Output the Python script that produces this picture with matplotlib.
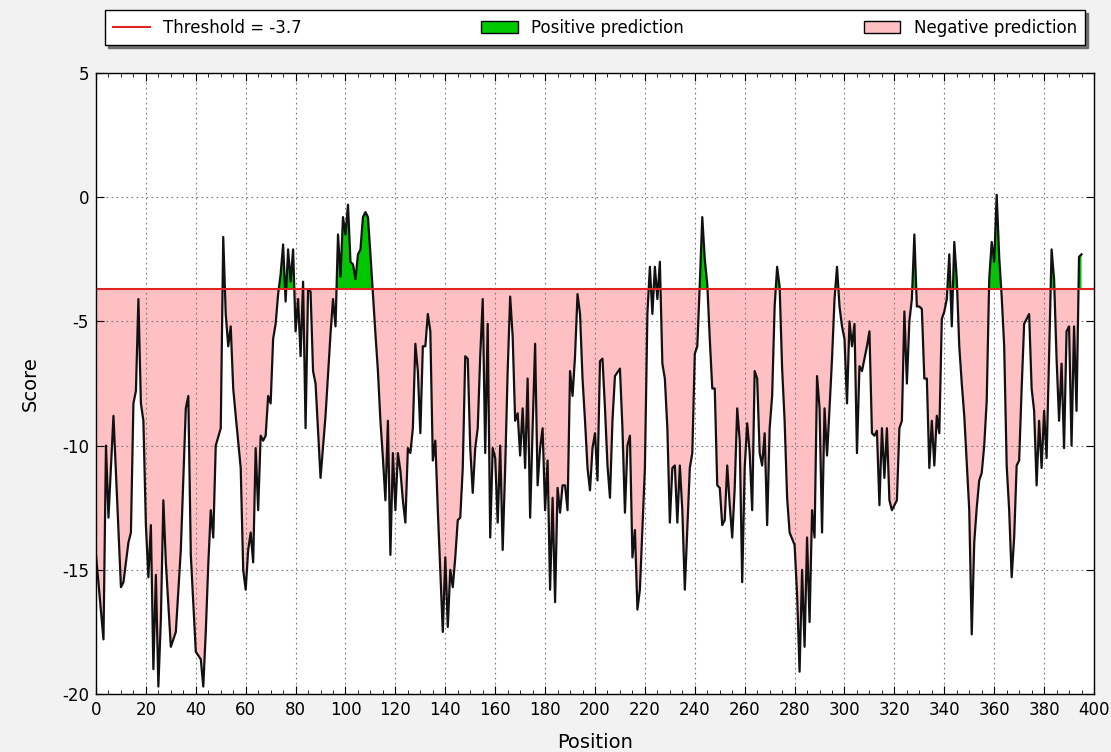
import matplotlib
matplotlib.use('Agg')
import matplotlib.pyplot as plt
from matplotlib.patches import Patch
from matplotlib.lines import Line2D
from matplotlib.ticker import MultipleLocator
import numpy as np

threshold = -3.7

positions = [
    0, 3, 4, 5, 7, 10, 11, 13, 14, 15, 16, 17, 18, 19, 20, 21, 22, 23, 24, 25, 26, 27, 28, 30, 32, 34, 36, 37, 38,
    40, 42, 43, 44, 45, 46, 47, 48, 50, 51, 52, 53, 54, 55, 56, 58, 59, 60, 61, 62, 63, 64, 65, 66, 67, 68, 69,
    70, 71, 72, 73, 74, 75, 76, 77, 78, 79,
    80, 81, 82, 83, 84, 85, 86, 87, 88, 90, 92, 94, 95, 96, 97, 98, 99, 100, 101, 102, 103, 104, 105, 106, 107,
    108, 109, 110, 111, 112, 113, 114, 115, 116, 117, 118, 119,
    120, 121, 122, 123, 124, 125, 126, 127, 128, 129, 130, 131, 132, 133, 134, 135, 136, 137, 138, 139, 140, 141,
    142, 143, 144, 145, 146, 147, 148, 149, 150, 151, 152, 153, 154, 155, 156, 157, 158, 159,
    160, 161, 162, 163, 164, 165, 166, 167, 168, 169, 170, 171, 172, 173, 174, 175, 176, 177, 178, 179, 180, 181,
    182, 183, 184, 185, 186, 187, 188, 189, 190, 191, 192, 193, 194, 195, 196, 197, 198, 199,
    200, 201, 202, 203, 204, 205, 206, 207, 208, 210, 211, 212, 213, 214, 215, 216, 217, 218, 220, 221, 222, 223,
    224, 225, 226, 227, 228, 229, 230, 231, 232, 233, 234, 235, 236, 238, 239,
    240, 241, 242, 243, 244, 245, 246, 247, 248, 249, 250, 251, 252, 253, 254, 255, 256, 257, 258, 259, 260, 261,
    262, 263, 264, 265, 266, 267, 268, 269, 270, 271, 272, 273, 274, 275, 276, 277, 278,
    280, 281, 282, 283, 284, 285, 286, 287, 288, 289, 290, 291, 292, 293, 294, 295, 296, 297, 298, 299, 300, 301,
    302, 303, 304, 305, 306, 307, 308, 309, 310, 311, 312, 313, 314, 315, 316, 317, 318, 319,
    320, 321, 322, 323, 324, 325, 326, 327, 328, 329, 330, 331, 332, 333, 334, 335, 336, 337, 338, 339, 340, 341,
    342, 343, 344, 345, 346, 347, 348, 350, 351, 352, 353, 354, 355, 356, 357, 358, 359,
    360, 361, 362, 363, 364, 365, 366, 367, 368, 369, 370, 371, 372, 373, 374, 375, 376, 377, 378, 379, 380, 381,
    382, 383, 384, 385, 386, 387, 388, 389, 390, 391, 392, 393, 394, 395,
]

scores = [
    -14.4, -17.8, -10.0, -12.9, -8.8, -15.7, -15.5, -13.9, -13.5, -8.3, -7.8, -4.1, -8.3, -9.0, -13.2, -15.3,
    -13.2, -19.0, -15.2, -19.7, -17.0, -12.2, -14.7, -18.1, -17.5, -14.2, -8.5, -8.0, -14.4,
    -18.3, -18.6, -19.7, -17.5, -14.8, -12.6, -13.7, -10.0, -9.3, -1.6, -4.7, -6.0, -5.2, -7.7, -8.8, -10.9,
    -15.0, -15.8, -14.2, -13.5, -14.7, -10.1, -12.6, -9.6, -9.8, -9.6, -8.0,
    -8.3, -5.7, -5.1, -3.9, -3.1, -1.9, -4.2, -2.1, -3.4, -2.1,
    -5.4, -4.1, -6.4, -3.4, -9.3, -3.7, -3.8, -7.0, -7.5, -11.3, -8.8, -5.5, -4.1, -5.2, -1.5, -3.2, -0.8, -1.5,
    -0.3, -2.6, -2.7, -3.3, -2.3, -2.1, -0.8,
    -0.6, -0.8, -2.3, -3.9, -5.5, -7.0, -9.0, -10.5, -12.2, -9.0, -14.4, -10.3,
    -12.6, -10.3, -11.0, -12.2, -13.1, -10.1, -10.3, -9.3, -5.9, -7.0, -9.5, -6.0, -6.0, -4.7, -5.4, -10.6, -9.8,
    -12.6, -15.0, -17.5, -14.5, -17.3,
    -15.0, -15.7, -14.5, -13.0, -12.9, -10.9, -6.4, -6.5, -10.1, -11.9, -10.1, -9.3, -6.4, -4.1, -10.3, -5.1,
    -13.7, -10.1,
    -10.5, -13.1, -10.0, -14.2, -10.9, -7.0, -4.0, -5.6, -9.0, -8.7, -10.4, -8.5, -10.9, -7.3, -12.9, -9.3, -5.9,
    -11.6, -10.1, -9.3, -12.6, -10.6,
    -15.8, -12.1, -16.3, -11.7, -12.7, -11.6, -11.6, -12.6, -7.0, -8.0, -6.4, -3.9, -4.7, -7.3, -9.0, -10.9,
    -11.8, -10.1,
    -9.5, -11.4, -6.6, -6.5, -8.5, -10.8, -12.1, -9.0, -7.2, -6.9, -9.3, -12.7, -10.0, -9.6, -14.5, -13.4, -16.6,
    -15.8, -10.9, -4.7, -2.8, -4.7,
    -2.8, -4.1, -2.6, -6.7, -7.3, -9.3, -13.1, -10.9, -10.8, -13.1, -10.8, -12.6, -15.8, -10.9, -10.3,
    -6.3, -6.0, -3.5, -0.8, -2.5, -3.5, -5.7, -7.7, -7.7, -11.6, -11.7, -13.2, -13.0, -10.8, -12.4, -13.7, -11.7,
    -8.5, -9.8, -15.5, -10.9, -9.1,
    -10.3, -12.6, -7.0, -7.3, -10.3, -10.8, -9.5, -13.2, -9.3, -8.0, -4.4, -2.8, -3.6, -6.9, -9.0, -12.1, -13.5,
    -14.0, -16.0, -19.1, -15.0, -18.1, -13.7, -17.1, -12.6, -13.7, -7.2, -8.5, -13.5, -8.5, -10.4, -8.5, -6.5,
    -4.1, -2.8, -4.4, -5.2, -5.7, -8.3,
    -5.0, -6.0, -5.1, -10.3, -6.8, -7.0, -6.5, -6.0, -5.4, -9.5, -9.6, -9.4, -12.4, -9.3, -11.3, -9.3, -12.2,
    -12.6,
    -12.4, -12.2, -9.3, -9.0, -4.6, -7.5, -5.0, -4.1, -1.5, -4.4, -4.4, -4.5, -7.3, -7.3, -10.9, -9.0, -10.8,
    -8.8, -9.5, -4.9, -4.6, -4.1,
    -2.3, -5.2, -1.8, -3.3, -6.0, -7.5, -8.8, -12.6, -17.6, -13.9, -12.5, -11.4, -11.1, -10.0, -8.2, -3.3, -1.8,
    -2.6, 0.1, -2.4, -4.0, -6.0, -10.8, -12.6, -15.3, -13.7, -10.8, -10.6, -7.7, -5.1, -4.9, -4.7, -7.7, -8.6,
    -11.6, -9.0, -10.9, -8.6, -10.5,
    -6.4, -2.1, -3.3, -6.5, -9.0, -6.7, -10.1, -5.4, -5.2, -10.0, -5.2, -8.6, -2.4, -2.3,
]

x_ticks = list(range(0, 401, 20))
y_ticks = [-20, -15, -10, -5, 0, 5]
legend_labels = ['Threshold = -3.7', 'Positive prediction', 'Negative prediction']

pos_arr = np.array(positions, dtype=float)
sc_arr = np.array(scores, dtype=float)

plt.rcParams['font.family'] = ['DejaVu Sans']
plt.rcParams['axes.unicode_minus'] = False

fig = plt.figure(figsize=(11.11, 7.52), dpi=100, facecolor='#f2f2f2')
ax = fig.add_axes([0.0864, 0.0771, 0.8983, 0.8258])
ax.set_facecolor('white')

ax.fill_between(pos_arr, sc_arr, threshold, where=sc_arr < threshold, interpolate=True,
                color='#ffc0c4', lw=0)
ax.fill_between(pos_arr, sc_arr, threshold, where=sc_arr >= threshold, interpolate=True,
                color='#00c800', lw=0)
ax.plot(pos_arr, sc_arr, color='#111111', lw=1.6)
ax.axhline(threshold, color='#e02424', lw=1.5)

ax.set_xlim(0, 400)
ax.set_ylim(-20, 5)
ax.set_xticks(x_ticks)
ax.set_yticks(y_ticks)
ax.xaxis.set_minor_locator(MultipleLocator(5))
ax.tick_params(which='major', direction='in', top=True, right=True, length=6, width=0.8,
               labelsize=12, pad=5)
ax.tick_params(which='minor', direction='in', top=True, right=True, length=3, width=0.6)
ax.grid(True, which='major', color='#777777', linestyle=(0, (1.5, 3)), lw=0.8)
for s in ax.spines.values():
    s.set_color('black')
    s.set_linewidth(1.0)

ax.set_xlabel('Position', fontsize=14, labelpad=10)
ax.set_ylabel('Score', fontsize=14, labelpad=16)

handles = [Line2D([], [], color='#e02424', lw=1.5),
           Patch(facecolor='#00c800', edgecolor='black'),
           Patch(facecolor='#ffc0c4', edgecolor='black')]
leg = ax.legend(handles, legend_labels, loc='lower left',
                bbox_to_anchor=(0.009, 1.045, 0.982, 0.052), mode='expand', ncol=3,
                borderaxespad=0, fancybox=False, shadow={'shade': 0.6, 'alpha': 0.9}, frameon=True,
                fontsize=12, handlelength=2.2, borderpad=0.5)
leg.get_frame().set_edgecolor('black')
leg.get_frame().set_linewidth(1.0)

fig.savefig('out.png', dpi=100, facecolor=fig.get_facecolor())
